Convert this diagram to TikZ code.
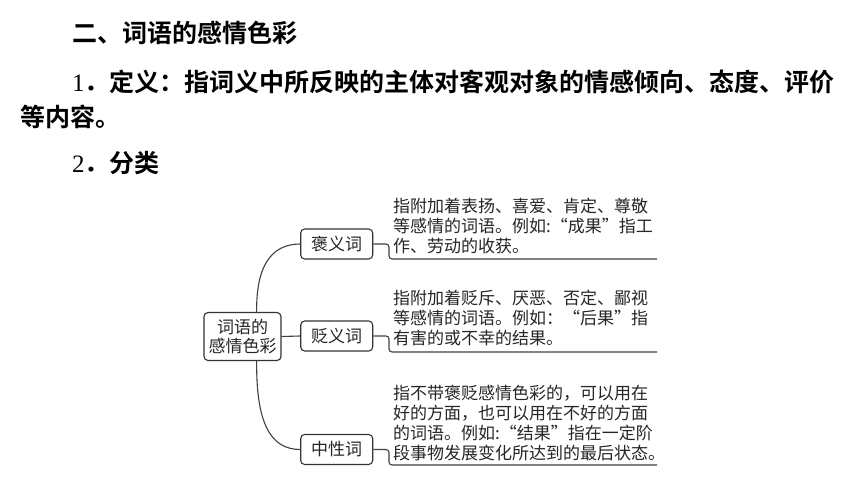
\documentclass[tikz,border=0pt]{standalone}
\usepackage{fontspec}
\setmainfont{Liberation Serif}
\newfontfamily\cjk[BoldFont={Noto Sans CJK SC Bold}]{Noto Sans CJK SC}
\usetikzlibrary{positioning}

\begin{document}
\begin{tikzpicture}[x=1pt,y=-1pt,
    head/.style={anchor=base west, inner sep=0pt, font=\cjk\bfseries\fontsize{25}{30}\selectfont},
    box/.style={draw=black!80, line width=1.1pt, rounded corners=4pt, inner sep=0pt, text=black!85, align=center, font=\cjk\fontsize{17}{18.5}\selectfont},
    note/.style={anchor=north west, inner sep=0pt, align=left, text=black!85, font=\cjk\fontsize{17}{20}\selectfont},
    link/.style={draw=black!75, line width=1.1pt, rounded corners=3pt}]
    \fill[white] (0,0) rectangle (860,484);
    \useasboundingbox (0,0) rectangle (860,484);

    % Heading
    \node[head] (title) at (72,43) {二、词语的感情色彩};
    \node[head] (def) at (72,92) {{\rmfamily\mdseries 1}．定义：指词义中所反映的主体对客观对象的情感倾向、态度、评价};
    \node[head] (def2) at (20,127) {等内容。};
    \node[head] (kind) at (72,172) {{\rmfamily\mdseries 2}．分类};

    % Root and branches
    \node[box, minimum width=77pt, minimum height=48pt] (root) at (242.5,336.5) {词语的\\感情色彩};
    \node[box, minimum width=72pt, minimum height=30pt] (pos) at (336.7,244) {褒义词};
    \node[box, minimum width=72pt, minimum height=30pt] (neg) at (336.7,336) {贬义词};
    \node[box, minimum width=72pt, minimum height=30pt] (neu) at (336.7,449.5) {中性词};

    \draw[link] (root.60) .. controls (256,268) and (270,244) .. (pos.west);
    \draw[link] (root.east) -- (neg.west);
    \draw[link] (root.-60) .. controls (256,422) and (270,449.5) .. (neu.west);

    % Explanations
    \node[note] (tpos) at (393,198) {指附加着表扬、喜爱、肯定、尊敬\\等感情的词语。例如:“成果”指工\\作、劳动的收获。};
    \node[note] (tneg) at (393,290) {指附加着贬斥、厌恶、否定、鄙视\\等感情的词语。例如：“后果”指\\有害的或不幸的结果。};
    \node[note] (tneu) at (393,385) {指不带褒贬感情色彩的，可以用在\\好的方面，也可以用在不好的方面\\的词语。例如:“结果”指在一定阶\\段事物发展变化所达到的最后状态。};

    % Underlines
    \coordinate (kpos) at (389,259);
    \coordinate (epos) at (657,259);
    \coordinate (kneg) at (389,352);
    \coordinate (eneg) at (657,352);
    \coordinate (kneu) at (389,465);
    \coordinate (eneu) at (657,465);
    \draw[link] (pos.east) -| (kpos) -- (epos);
    \draw[link] (neg.east) -| (kneg) -- (eneg);
    \draw[link] (neu.east) -| (kneu) -- (eneu);
\end{tikzpicture}
\end{document}
